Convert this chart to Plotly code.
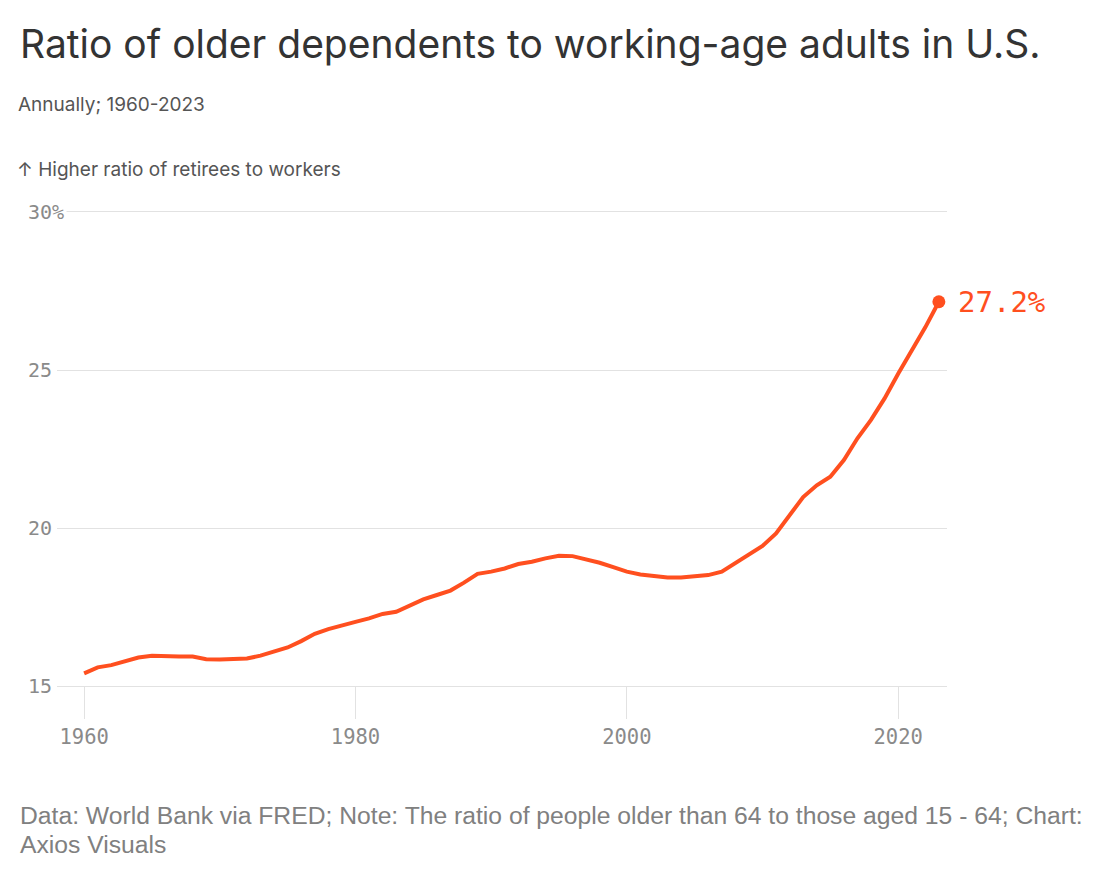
import plotly.graph_objects as go

# ---- data ----
years = list(range(1960, 2024))
ratio = [
    15.40, 15.59, 15.66, 15.77, 15.90, 15.96, 15.93, 15.93, 15.93, 15.85,
    15.84, 15.84, 15.87, 15.96, 16.09, 16.22, 16.42, 16.65, 16.80, 16.93,
    17.03, 17.14, 17.28, 17.35, 17.53, 17.74, 17.88, 18.02, 18.27, 18.55,
    18.62, 18.72, 18.86, 18.93, 19.04, 19.12, 19.11, 19.01, 18.90, 18.76,
    18.62, 18.53, 18.48, 18.43, 18.43, 18.46, 18.51, 18.62, 18.90, 19.17,
    19.43, 19.83, 20.40, 20.98, 21.35, 21.62, 22.15, 22.84, 23.42, 24.10,
    24.88, 25.61, 26.35, 27.16,
]
x_ticks = [1960, 1980, 2000, 2020]
y_ticks = [15, 20, 25, 30]
y_tick_text = ["15", "20", "25", "30%"]

title = "Ratio of older dependents to working-age adults in U.S."
subtitle = "Annually; 1960-2023"
axis_note = "↑ Higher ratio of retirees to workers"
footer_1 = "Data: World Bank via FRED; Note: The ratio of people older than 64 to those aged 15 - 64; Chart:"
footer_2 = "Axios Visuals"

# ---- layout geometry (page pixels; page body has an 8px margin) ----
OFF = 8
W, H = 1100 - OFF, 871 - OFF
L, R, T, B = 57 - OFF, 947 - OFF, 212 - OFF, 686 - OFF
ORANGE = "#ff4f1f"
MONO = "DejaVu Sans Mono, Liberation Mono, monospace"
SANS = "Inter, Roboto, Noto Sans, sans-serif"
FOOT = "Liberation Sans, Arial, sans-serif"
GRID = "#e2e2e2"


def px(xp):
    return (xp - OFF - L) / (R - L)


def py(yp):
    return (B - (yp - OFF)) / (B - T)


fig = go.Figure()
fig.add_trace(go.Scatter(
    x=years, y=ratio, mode="lines",
    line=dict(color=ORANGE, width=4, shape="linear"),
    hoverinfo="skip", showlegend=False,
))
fig.add_trace(go.Scatter(
    x=[years[-1]], y=[ratio[-1]], mode="markers",
    marker=dict(color=ORANGE, size=13),
    hoverinfo="skip", showlegend=False,
))

annotations = []
# end label
annotations.append(dict(
    x=years[-1], y=ratio[-1], xref="x", yref="y",
    text=f"{ratio[-1]:.1f}%", showarrow=False, xanchor="left", yanchor="middle",
    xshift=17, font=dict(family=MONO, size=29, color=ORANGE),
))
# y tick labels (left aligned)
for v, t in zip(y_ticks, y_tick_text):
    annotations.append(dict(
        x=px(25), y=v, xref="paper", yref="y", text=t, showarrow=False,
        xanchor="left", yanchor="middle", bgcolor="white", borderpad=2,
        font=dict(family=MONO, size=20, color="#8a8a8a"),
    ))
# header texts
annotations.append(dict(
    x=px(18), y=py(43), xref="paper", yref="paper", text=title, showarrow=False,
    xanchor="left", yanchor="middle", font=dict(family=SANS, size=39, color="#333333"),
))
annotations.append(dict(
    x=px(16), y=py(105), xref="paper", yref="paper", text=subtitle, showarrow=False,
    xanchor="left", yanchor="middle", font=dict(family=SANS, size=19, color="#555555"),
))
annotations.append(dict(
    x=px(15), y=py(169), xref="paper", yref="paper", text=axis_note, showarrow=False,
    xanchor="left", yanchor="middle", font=dict(family=SANS, size=19, color="#555555"),
))
annotations.append(dict(
    x=px(18), y=py(815), xref="paper", yref="paper", text=footer_1, showarrow=False,
    xanchor="left", yanchor="middle", font=dict(family=FOOT, size=24.7, color="#808080"),
))
annotations.append(dict(
    x=px(18), y=py(844), xref="paper", yref="paper", text=footer_2, showarrow=False,
    xanchor="left", yanchor="middle", font=dict(family=FOOT, size=24.7, color="#808080"),
))

fig.update_layout(
    width=W, height=H,
    margin=dict(l=L, r=W - R, t=T, b=H - B, pad=0),
    paper_bgcolor="white", plot_bgcolor="white",
    showlegend=False,
    annotations=annotations,
    xaxis=dict(
        range=[1958.0, 2023.6], tickvals=x_ticks, ticktext=[str(v) for v in x_ticks],
        showgrid=False, zeroline=False,
        showline=True, mirror=True, linecolor=GRID, linewidth=1,
        ticks="outside", ticklen=32, tickcolor=GRID, tickwidth=1,
        tickfont=dict(family=MONO, size=20.5, color="#8a8a8a"),
    ),
    yaxis=dict(
        range=[15, 30], tickvals=y_ticks, showticklabels=False,
        showgrid=True, gridcolor=GRID, gridwidth=1,
        zeroline=False, showline=False, ticks="",
    ),
)

fig.write_html("out.html")
